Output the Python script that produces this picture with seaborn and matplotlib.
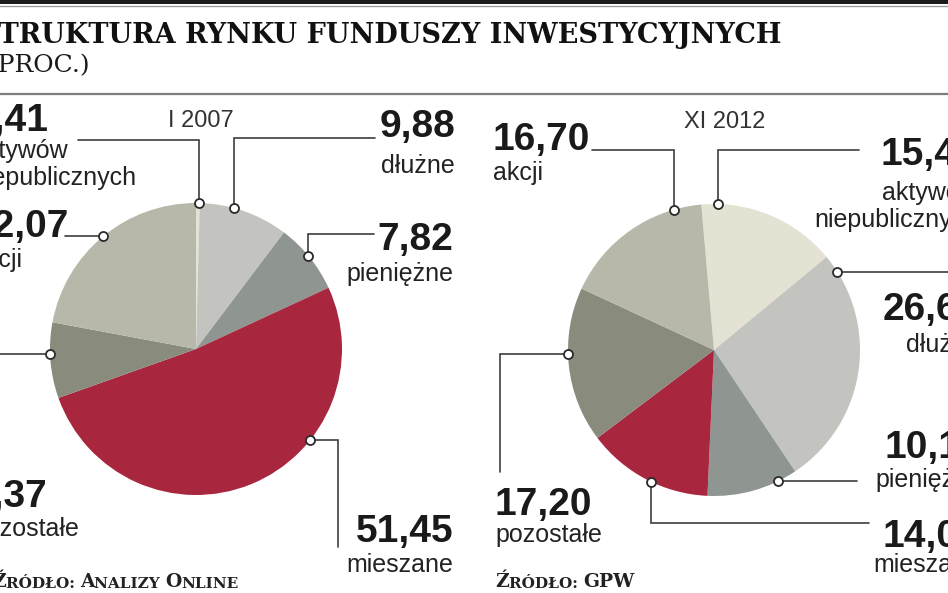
import numpy as np
import matplotlib
matplotlib.use("Agg")
import matplotlib.pyplot as plt
import seaborn as sns

# data (percent)
categories = ["aktywów\nniepublicznych", "dłużne", "pieniężne", "mieszane", "pozostałe", "akcji"]
vals_2007 = [0.41, 9.88, 7.82, 51.45, 8.37, 22.07]
vals_2012 = [15.40, 26.60, 10.10, 14.00, 17.20, 16.70]
periods = ["I 2007", "XI 2012"]
sources = [["Ź", "RÓDŁO: ", "A", "NALIZY ", "O", "NLINE"], ["Ź", "RÓDŁO: ", "GPW"]]
title = "STRUKTURA RYNKU FUNDUSZY INWESTYCYJNYCH"
subtitle = "(PROC.)"

colors = sns.color_palette(["#e4e2d3", "#c3c4bf", "#8f9691", "#a9263f", "#898b7d", "#b7b8aa"])

sns.set_theme(style="white")
plt.rcParams["font.family"] = ["Liberation Sans", "DejaVu Sans"]

W, H = 948, 593
R = 146
fig = plt.figure(figsize=(W / 100, H / 100), dpi=100)
fig.patch.set_facecolor("white")

# label layout in pixels: dot angle, connector path, text anchor, baselines
layout = [
    dict(cx=196, cy=349, year_x=201, year_y=127, src_x=-8, labels=[
        dict(ang=88.8, path=[(None, 140), (78, None)], x=-28, ha="left", yn=131, yl=[158, 185]),
        dict(ang=74.8, path=[(None, 138), (375, None)], x=455, ha="right", yn=137, yl=[173]),
        dict(ang=39.8, path=[(None, 234), (374, None)], x=453, ha="right", yn=250, yl=[281]),
        dict(ang=-38.7, path=[(338, None), (None, 547)], x=453, ha="right", yn=542, yl=[572]),
        dict(ang=182.0, path=[(-5, None)], x=-28, ha="left", yn=507, yl=[536]),
        dict(ang=129.5, path=[(65, None)], x=-28, ha="left", yn=237, yl=[267]),
    ]),
    dict(cx=714, cy=350, year_x=725, year_y=128, src_x=495, labels=[
        dict(ang=88.4, path=[(None, 150), (859, None)], x=978, ha="right", yn=165, yl=[200, 227]),
        dict(ang=32.4, path=[(955, None)], x=980, ha="right", yn=320, yl=[352]),
        dict(ang=-64.0, path=[(857, None)], x=982, ha="right", yn=458, yl=[487]),
        dict(ang=-115.7, path=[(None, 523), (869, None)], x=980, ha="right", yn=547, yl=[572]),
        dict(ang=181.6, path=[(500, None), (None, 472)], x=495, ha="left", yn=515, yl=[542]),
        dict(ang=106.0, path=[(None, 150), (592, None)], x=493, ha="left", yn=150, yl=[180]),
    ]),
]
start_angles = [90, 95]

# pies
for vals, lay, sa in zip([vals_2007, vals_2012], layout, start_angles):
    ax = fig.add_axes([(lay["cx"] - R) / W, (H - lay["cy"] - R) / H, 2 * R / W, 2 * R / H])
    ax.pie(vals, colors=colors, startangle=sa, counterclock=False, radius=1,
           wedgeprops=dict(linewidth=0))
    ax.set_xlim(-1, 1)
    ax.set_ylim(-1, 1)
    ax.axis("off")

# overlay in pixel coordinates
ov = fig.add_axes([0, 0, 1, 1], zorder=5)
ov.set_xlim(0, W)
ov.set_ylim(H, 0)
ov.patch.set_alpha(0)
ov.axis("off")

# header
ov.fill_between([0, W], 0, 4, color="#1b1b1b", lw=0)
ov.plot([0, W], [5.5, 5.5], color="#9a9a9a", lw=1)
ov.plot([0, W], [94, 94], color="#7d7d7d", lw=1.6)
ov.text(-21, 43, title, family=["DejaVu Serif"], weight="bold", fontsize=19.5,
        color="#111111", va="baseline", ha="left")
ov.text(-12, 72, subtitle, family=["DejaVu Serif"], fontsize=18, color="#1a1a1a",
        va="baseline", ha="left")


def fmt(v):
    return f"{v:.2f}".replace(".", ",")


def small_caps(x, y, parts):
    prev = ov.text(x, y, parts[0], family=["DejaVu Serif"], weight="bold", fontsize=13.5,
                   color="#222222", va="baseline", ha="left")
    for i, p in enumerate(parts[1:], start=1):
        prev = ov.annotate(p, xy=(1, 0), xycoords=prev, va="bottom", ha="left",
                           family=["DejaVu Serif"], weight="bold",
                           fontsize=13.5 if i % 2 == 0 else 11, color="#222222")


for vals, lay, per, src in zip([vals_2007, vals_2012], layout, periods, sources):
    cx, cy = lay["cx"], lay["cy"]
    ov.text(lay["year_x"], lay["year_y"], per, fontsize=17, color="#333333",
            ha="center", va="baseline")
    for v, cat, lb in zip(vals, categories, lay["labels"]):
        a = np.deg2rad(lb["ang"])
        px, py = cx + R * np.cos(a), cy - R * np.sin(a)
        xs, ys = [px], [py]
        for qx, qy in lb["path"]:
            xs.append(xs[-1] if qx is None else qx)
            ys.append(ys[-1] if qy is None else qy)
        ov.plot(xs, ys, color="#3d3d3d", lw=1.2, solid_joinstyle="miter")
        ov.plot([px], [py], marker="o", ms=6.5, mfc="white", mec="#2a2a2a", mew=1.3)
        ov.text(lb["x"], lb["yn"], fmt(v), fontsize=28, weight="bold", color="#1a1a1a",
                ha=lb["ha"], va="baseline")
        for line, yl in zip(cat.split("\n"), lb["yl"]):
            ov.text(lb["x"], yl, line, fontsize=18, color="#222222",
                    ha=lb["ha"], va="baseline")
    small_caps(lay["src_x"], 587, src)

fig.savefig("out.png", dpi=100, facecolor="white")
